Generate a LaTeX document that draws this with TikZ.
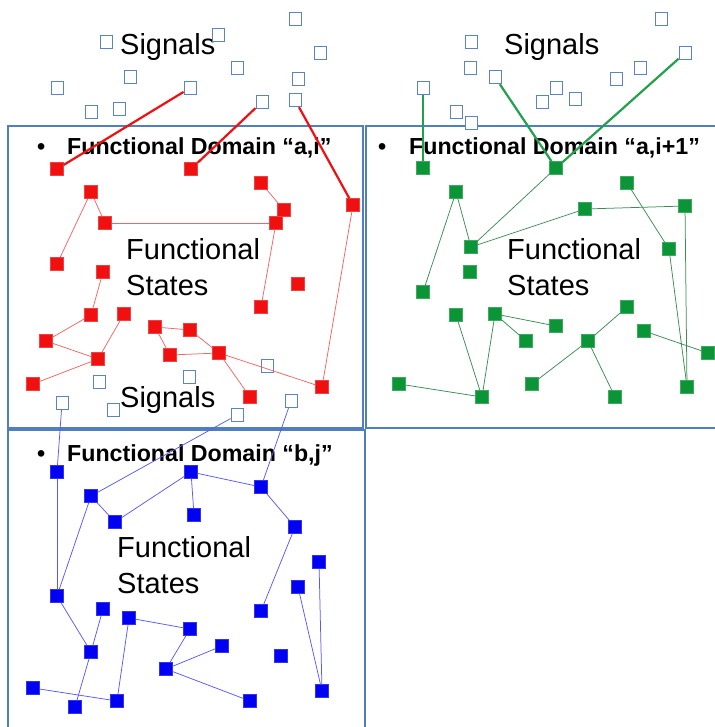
\documentclass[tikz,border=0pt]{standalone}
\usepackage{fontspec}
\setmainfont{Liberation Sans}
\definecolor{panel}{HTML}{4F7FC0}
\definecolor{sig}{HTML}{5B84C4}
\definecolor{rst}{HTML}{F01010}
\definecolor{gst}{HTML}{0B9537}
\definecolor{bst}{HTML}{0000F2}

\begin{document}
\begin{tikzpicture}[x=1pt,y=-1pt,
  sigbox/.style={draw=sig,fill=white,line width=.9pt,minimum width=12pt,minimum height=13.5pt,inner sep=0pt},
  state/.style={fill=#1,draw=#1!80!white,line width=.5pt,minimum size=13pt,inner sep=0pt},
  thin/.style={draw=#1,line width=.75pt},
  link/.style={draw=#1,line width=2.2pt},
  big/.style={font=\fontsize{29}{36}\selectfont,inner sep=0pt},
  head/.style={font=\fontsize{23.2}{27}\selectfont\bfseries,inner sep=0pt,anchor=base west}]
\useasboundingbox (0,0) rectangle (714,727);
% domains
\draw[panel,line width=1.1pt] (8,126) rectangle (363,428);
\draw[panel,line width=1.1pt] (366,126) rectangle (718,428);
\draw[panel,line width=1.1pt] (8,430) rectangle (365,731);
% texts
\node[big,anchor=base west] (sigA) at (120,55) {Signals};
\node[big,anchor=base west] (sigB) at (504,55) {Signals};
\node[big,anchor=base west] (sigC) at (120,407) {Signals};
\node[head] (domA) at (37,155) {\makebox[30pt][l]{•}Functional Domain “a,i”};
\node[head] (domB) at (378,155) {\makebox[31pt][l]{•}Functional Domain “a,i+1”};
\node[head] (domC) at (37,461) {\makebox[30pt][l]{•}Functional Domain “b,j”};
\node[big,anchor=north west,align=left] (fsA) at (126,238) {Functional\\States};
\node[big,anchor=north west,align=left] (fsB) at (507,238) {Functional\\States};
\node[big,anchor=north west,align=left] (fsC) at (117,536) {Functional\\States};
% signals
\foreach \n/\x/\y in {t1/295/19,t2/218/35,t3/106/42,t4/320/53,t5/237/68,t6/130/77,t7/57/88,
  t8/190/88,t9/298/79,t10/262/102,t11/295/100,t12/91/112,t13/119/109,
  u1/661/19,u2/471/42,u3/685/53,u4/470/68,u5/495/77,u6/640/68,u7/616/79,
  u8/423/88,u9/556/88,u10/575/99,u11/542/102,u12/456/112,u13/471/123,
  m1/99/382,m2/189/377,m3/267/366,m4/62/403,m5/113/410,m6/237/415,m7/291/401}
  \node[sigbox] (\n) at (\x,\y) {};
% states a,i
\foreach \n/\x/\y in {r1/57/169,r2/191/169,r3/91/192,r4/261/183,r5/284/210,r6/353/205,
  r7/105/223,r8/276/223,r9/57/264,r10/103/272,r11/298/284,r12/261/307,r13/91/315,
  r14/124/314,r15/46/341,r16/155/327,r17/190/330,r18/98/359,r19/170/355,r20/219/353,
  r21/33/384,r22/250/397,r23/322/387}
  \node[state=rst] (\n) at (\x,\y) {};
% states a,i+1
\foreach \n/\x/\y in {g1/423/168,g2/556/168,g3/627/183,g4/456/192,g5/585/209,g6/685/206,
  g7/471/247,g8/669/249,g9/470/272,g10/423/292,g11/456/315,g12/495/314,g13/556/326,
  g14/627/307,g15/526/341,g16/588/341,g17/644/331,g18/708/353,g19/399/384,g20/482/397,
  g21/532/384,g22/615/397,g23/687/387}
  \node[state=gst] (\n) at (\x,\y) {};
% states b,j
\foreach \n/\x/\y in {b1/57/472,b2/91/496,b3/191/472,b4/261/487,b5/115/522,b6/194/515,
  b7/295/527,b8/319/562,b9/298/587,b10/57/596,b11/103/609,b12/261/611,b13/129/618,
  b14/190/629,b15/222/646,b16/91/652,b17/281/656,b18/166/669,b19/33/688,b20/322/691,
  b21/117/701,b22/75/707,b23/250/701}
  \node[state=bst] (\n) at (\x,\y) {};
% transitions
\foreach \a/\b in {r3/r7,r3/r9,r7/r8,r4/r5,r8/r12,r6/r23,r10/r13,r13/r15,r15/r18,r14/r18,
  r18/r21,r16/r17,r16/r19,r19/r20,r17/r20,r20/r22,r20/r23}
  \path[thin=rst!65!white] (\a)--(\b);
\foreach \a/\b in {g4/g7,g4/g10,g2/g7,g7/g5,g5/g6,g6/g23,g3/g8,g8/g23,g11/g20,g12/g20,
  g12/g13,g12/g15,g14/g16,g16/g21,g16/g22,g17/g18,g19/g20}
  \path[thin=gst!60!gray] (\a)--(\b);
\foreach \a/\b in {b1/b10,b2/b5,b2/b10,b5/b3,b3/b6,b3/b4,b4/b7,b7/b12,b8/b20,b9/b20,
  b10/b16,b11/b16,b16/b22,b19/b21,b13/b21,b13/b14,b14/b18,b18/b15,b18/b23,m4/b1,m6/b2,m7/b4}
  \path[thin=bst!65!white] (\a)--(\b);
% signal links
\foreach \a/\b in {t8/r1,t10/r2,t11/r6} \path[link=rst] (\a)--(\b);
\foreach \a/\b in {u8/g1,u5/g2,u3/g2} \path[link=gst!90!white] (\a)--(\b);
\end{tikzpicture}
\end{document}
